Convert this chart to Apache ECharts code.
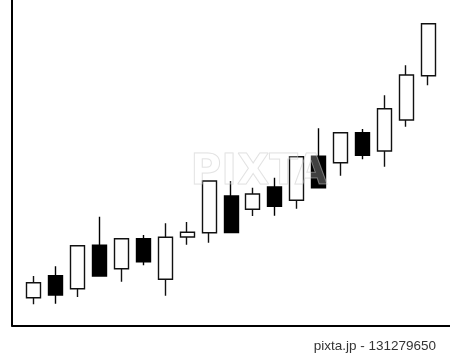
<!DOCTYPE html>
<html>
<head>
<meta charset="utf-8">
<script src="https://cdn.jsdelivr.net/npm/echarts@6/dist/echarts.min.js"></script>
<style>html,body{margin:0;padding:0;background:#fff}#c{width:450px;height:357px}</style>
</head>
<body>
<div id="c"></div>
<script>
// categories (first and last are empty padding slots)
var categories = ['', 'D1','D2','D3','D4','D5','D6','D7','D8','D9','D10','D11','D12','D13','D14','D15','D16','D17','D18','D19', ''];
// [open, close, low, high]
var ohlc = [
  '-',
  [11.1, 17.1, 8.5, 19.8],
  [19.9, 12.2, 8.7, 23.7],
  [14.7, 31.9, 11.4, 31.9],
  [32.1, 19.8, 19.8, 43.5],
  [22.7, 34.7, 17.5, 34.7],
  [34.7, 25.5, 24.1, 36.2],
  [18.5, 35.3, 11.9, 40.9],
  [35.4, 37.3, 32.3, 41.4],
  [37.1, 57.8, 33.1, 57.8],
  [51.8, 37.2, 37.2, 57.8],
  [46.5, 52.6, 43.8, 55.1],
  [55.4, 47.7, 43.9, 59.1],
  [50.1, 67.5, 46.7, 67.5],
  [67.7, 55.1, 55.1, 78.9],
  [65.1, 77.1, 59.9, 77.1],
  [77.1, 68.1, 66.5, 78.6],
  [69.8, 86.7, 63.5, 92.1],
  [82.2, 100.2, 79.5, 104.1],
  [99.9, 120.7, 96.1, 120.7],
  '-'
];
var yMin = 0, yMax = 130.2;
var watermarkText = 'PIXTA';
var creditText = 'pixta.jp - 131279650';

var chart = echarts.init(document.getElementById('c'), null, {renderer: 'canvas'});
chart.setOption({
  animation: false,
  backgroundColor: '#fff',
  grid: {left: 12, top: 0, width: 440.6, height: 325.5, containLabel: false},
  xAxis: {
    type: 'category', data: categories, boundaryGap: false,
    axisLine: {show: true, lineStyle: {color: '#000', width: 2}},
    axisTick: {show: false}, axisLabel: {show: false}, splitLine: {show: false}
  },
  yAxis: {
    type: 'value', min: yMin, max: yMax, scale: false,
    axisLine: {show: true, lineStyle: {color: '#000', width: 2}},
    axisTick: {show: false}, axisLabel: {show: false}, splitLine: {show: false}
  },
  series: [{
    type: 'candlestick',
    data: ohlc,
    barWidth: 14.5,
    itemStyle: {
      color: '#fff', color0: '#000',
      borderColor: '#111', borderColor0: '#000',
      borderWidth: 1.4
    }
  }],
  graphic: [
    {
      type: 'text', left: 190, top: 152, silent: true, z: 100,
      style: {
        text: watermarkText,
        font: 'bold 42px "DejaVu Sans", sans-serif',
        fill: 'rgba(255,255,255,0.25)',
        stroke: 'rgba(190,190,190,0.5)', lineWidth: 1
      }
    },
    {
      type: 'text', right: 14, top: 339, silent: true,
      style: {
        text: creditText,
        font: '13.5px "Liberation Sans", Arial, sans-serif',
        fill: '#333'
      }
    }
  ]
});
</script>
</body>
</html>
